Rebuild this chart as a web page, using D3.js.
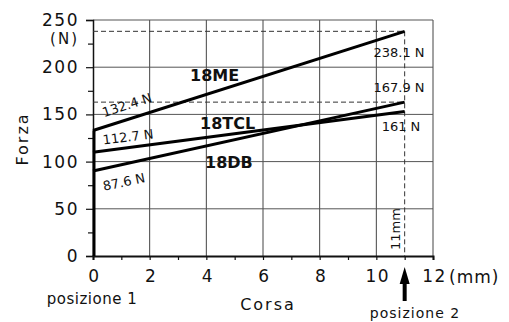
<!DOCTYPE html>
<html>
<head>
<meta charset="utf-8">
<script src="https://cdn.jsdelivr.net/npm/d3@7"></script>
<style>
    body { margin: 0; background: #fff; }
    text { font-family: "DejaVu Sans", sans-serif; fill: #111; }
</style>
</head>
<body>
<div id="chart"></div>
<script>

// stroke positions (mm) and force values (N)
var stroke = [0, 11];
var forceME = [133, 238];
var forceTCL = [110, 153];
var forceDB = [90, 163];

var seriesNames = ["18ME", "18TCL", "18DB"];
var startLabels = ["132.4 N", "112.7 N", "87.6 N"];
var endLabels = ["238.1 N", "167.9 N", "161 N"];

var xTicks = [0, 2, 4, 6, 8, 10, 12];
var xMinorTicks = [1, 3, 5, 7, 9, 11];
var yTicks = [0, 50, 100, 150, 200, 250];
var yMinorTicks = [25, 75, 125, 175, 225];

var margin = {top: 20, right: 76, bottom: 66, left: 93};
var width = 509 - margin.left - margin.right;
var height = 322 - margin.top - margin.bottom;

var svg = d3.select("#chart").append("svg")
    .attr("width", 509)
    .attr("height", 322);

var g = svg.append("g")
    .attr("transform", "translate(" + margin.left + "," + margin.top + ")");

var x = d3.scaleLinear().domain([0, 12]).range([0, width]);
var y = d3.scaleLinear().domain([0, 250]).range([height, 0]);

// grid
g.selectAll(".vgrid").data(xTicks.slice(1))
    .enter().append("line")
    .attr("x1", function(d) { return x(d); })
    .attr("x2", function(d) { return x(d); })
    .attr("y1", y(0)).attr("y2", y(250))
    .attr("stroke", "#444").attr("stroke-width", 1);

g.selectAll(".hgrid").data(yTicks.slice(1))
    .enter().append("line")
    .attr("x1", x(0)).attr("x2", x(12))
    .attr("y1", function(d) { return y(d); })
    .attr("y2", function(d) { return y(d); })
    .attr("stroke", "#555").attr("stroke-width", 1);

// axes
var xAxis = g.append("g")
    .attr("transform", "translate(0," + height + ")")
    .call(d3.axisBottom(x).tickValues(xTicks).tickSize(4).tickPadding(10)
        .tickFormat(d3.format("d")));
g.append("g")
    .attr("transform", "translate(0," + height + ")")
    .call(d3.axisBottom(x).tickValues(xMinorTicks).tickSize(4).tickFormat(""))
    .select(".domain").remove();

var yAxis = g.append("g")
    .call(d3.axisLeft(y).tickValues(yTicks).tickSize(7).tickPadding(7));
g.append("g")
    .call(d3.axisLeft(y).tickValues(yMinorTicks).tickSize(5).tickFormat(""))
    .select(".domain").remove();

g.selectAll(".domain").attr("stroke", "#111").attr("stroke-width", 1.5);
xAxis.select(".domain").attr("stroke-width", 2);
g.selectAll(".tick line").attr("stroke", "#111").attr("stroke-width", 1.2);
g.selectAll(".tick text")
    .style("font-size", "17px")
    .style("letter-spacing", "1.5px")
    .style("font-family", "DejaVu Sans");
xAxis.selectAll(".tick text").attr("dx", "1px");

yAxis.append("text")
    .attr("x", -14).attr("y", y(250) + 24)
    .attr("text-anchor", "end")
    .style("font-size", "15px")
    .style("letter-spacing", "2px")
    .text("(N)");

g.append("text")
    .attr("x", x(12) + 16).attr("y", height + 27)
    .style("font-size", "17px")
    .style("letter-spacing", "1px")
    .text("(mm)");

// dashed references at the end of stroke
var dash = "5,3";
[forceME[1], forceDB[1]].forEach(function(v) {
    g.append("line")
        .attr("x1", x(0)).attr("x2", x(stroke[1]))
        .attr("y1", y(v)).attr("y2", y(v))
        .attr("stroke", "#333").attr("stroke-width", 1)
        .attr("stroke-dasharray", dash);
});
g.append("line")
    .attr("x1", x(stroke[1])).attr("x2", x(stroke[1]))
    .attr("y1", y(forceME[1])).attr("y2", y(0))
    .attr("stroke", "#333").attr("stroke-width", 1)
    .attr("stroke-dasharray", dash);

// data lines
var line = d3.line()
    .x(function(d, i) { return x(stroke[i]); })
    .y(function(d) { return y(d); });

[forceME, forceTCL, forceDB].forEach(function(s) {
    g.append("path")
        .attr("d", line(s))
        .attr("fill", "none")
        .attr("stroke", "#000")
        .attr("stroke-width", 3);
});

g.append("line")
    .attr("x1", x(0) + 1).attr("x2", x(0) + 1)
    .attr("y1", y(0)).attr("y2", y(forceME[0]))
    .attr("stroke", "#000").attr("stroke-width", 3);

// series names
var namePos = [[190, 81], [200, 129], [205, 168]];
seriesNames.forEach(function(n, i) {
    svg.append("text")
        .attr("x", namePos[i][0]).attr("y", namePos[i][1])
        .style("font-size", "16px")
        .style("font-weight", "bold")
        .text(n);
});

// start value labels, rotated along the lines
var startPos = [[127, 105, -18], [128, 137, -7], [124, 182, -12]];
startLabels.forEach(function(t, i) {
    svg.append("text")
        .attr("transform", "translate(" + startPos[i][0] + "," + startPos[i][1] + ") rotate(" + startPos[i][2] + ")")
        .attr("text-anchor", "middle")
        .attr("dominant-baseline", "central")
        .style("font-size", "13px")
        .text(t);
});

// end value labels
var endPos = [[399, 57], [399, 92], [401, 131]];
endLabels.forEach(function(t, i) {
    svg.append("text")
        .attr("x", endPos[i][0]).attr("y", endPos[i][1])
        .attr("text-anchor", "middle")
        .style("font-size", "13px")
        .text(t);
});

svg.append("text")
    .attr("transform", "translate(400,229) rotate(-90)")
    .attr("text-anchor", "middle")
    .style("font-size", "13px")
    .text("11mm");

// axis titles
svg.append("text")
    .attr("transform", "translate(28,139) rotate(-90)")
    .attr("text-anchor", "middle")
    .style("font-size", "16px")
    .style("letter-spacing", "2px")
    .text("Forza");

svg.append("text")
    .attr("x", 268).attr("y", 310)
    .attr("text-anchor", "middle")
    .style("font-size", "16px")
    .style("letter-spacing", "2px")
    .text("Corsa");

svg.append("text")
    .attr("x", 92).attr("y", 304)
    .attr("text-anchor", "middle")
    .style("font-size", "15px")
    .style("letter-spacing", "0.5px")
    .text("posizione 1");

svg.append("text")
    .attr("x", 415).attr("y", 318)
    .attr("text-anchor", "middle")
    .style("font-size", "14px")
    .style("letter-spacing", "1px")
    .text("posizione 2");

// arrow for position 2
var ax = margin.left + x(stroke[1]);
svg.append("rect")
    .attr("x", ax - 2).attr("y", 282)
    .attr("width", 4).attr("height", 19)
    .attr("fill", "#000");
svg.append("path")
    .attr("d", "M" + ax + ",267 L" + (ax + 5) + ",284 L" + (ax - 5) + ",284 Z")
    .attr("fill", "#000");

</script>
</body>
</html>
